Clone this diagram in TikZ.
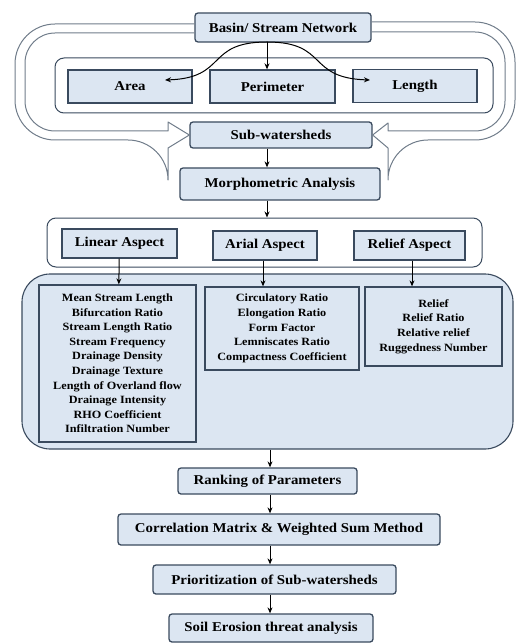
\documentclass[tikz,border=0pt]{standalone}
\usepackage{fontspec}
\setmainfont{Liberation Serif}[FakeStretch=1.1]
\usepackage{xcolor}
\usetikzlibrary{positioning,arrows.meta,calc}
\definecolor{boxfill}{RGB}{220,230,242}
\definecolor{boxline}{RGB}{58,74,94}
\definecolor{loopline}{RGB}{112,124,138}

\begin{document}
\begin{tikzpicture}[x=1pt,y=-1pt,>={Stealth[length=6pt,width=5pt]},every node/.style={font=\bfseries\fontsize{13.5}{16}\selectfont}]
\tikzstyle{st}=[draw=boxline,line width=1.3pt,fill=boxfill,rounded corners=3pt,align=center,inner sep=0pt]
\tikzstyle{sq}=[st,rounded corners=0pt]
\tikzstyle{grp}=[draw=boxline,line width=1pt,fill=white,rounded corners=9pt,inner sep=0pt]
\tikzstyle{lst}=[sq,fill=boxfill,font=\bfseries\fontsize{11.1}{14.6}\selectfont]
\tikzstyle{hollow}=[draw=loopline,line width=1pt,line join=round]
\useasboundingbox (0,0) rectangle (516,644);

\node[st,minimum width=176,minimum height=29] (basin) at (283,27.5) {Basin/ Stream Network};
\node[grp,minimum width=438,minimum height=55] (grp1) at (274,85.5) {};
\node[sq,minimum width=124,minimum height=33] (area) at (130,86.5) {Area};
\node[sq,minimum width=125,minimum height=33] (perim) at (272.5,86.5) {Perimeter};
\node[sq,minimum width=124,minimum height=33] (length) at (415,86) {Length};
\node[st,minimum width=182,minimum height=26] (subw) at (281,135) {Sub-watersheds};
\node[st,minimum width=200,minimum height=32] (morph) at (280,184) {Morphometric Analysis};

\node[grp,minimum width=435,minimum height=49] (grp2) at (264.5,242.5) {};
\node[sq,minimum width=115,minimum height=29] (linear) at (119.5,243.5) {Linear Aspect};
\node[sq,minimum width=104,minimum height=29] (arial) at (265,245.5) {Arial Aspect};
\node[sq,minimum width=111,minimum height=29] (relief) at (409.5,245.5) {Relief Aspect};

\node[st,rounded corners=28pt,line width=1.1pt,minimum width=491,minimum height=175] (params) at (267.5,361.5) {};
\node[lst,minimum width=157,minimum height=157] (linlist) at (117.5,363.5) {Mean Stream Length\\Bifurcation Ratio\\Stream Length Ratio\\Stream Frequency\\Drainage Density\\Drainage Texture\\Length of Overland flow\\Drainage Intensity\\RHO Coefficient\\Infiltration Number};
\node[lst,minimum width=154,minimum height=83] (arilist) at (282,328.5) {Circulatory Ratio\\Elongation Ratio\\Form Factor\\Lemniscates Ratio\\Compactness Coefficient};
\node[lst,minimum width=137,minimum height=79] (rellist) at (433.5,326.5) {Relief\\Relief Ratio\\Relative relief\\Ruggedness Number};

\node[st,minimum width=179,minimum height=26] (rank) at (267.5,481) {Ranking of Parameters};
\node[st,minimum width=322,minimum height=31] (corr) at (279,529.5) {Correlation Matrix \& Weighted Sum Method};
\node[st,minimum width=243,minimum height=29] (prio) at (274.5,579.5) {Prioritization of Sub-watersheds};
\node[st,minimum width=204,minimum height=28] (soil) at (271,628) {Soil Erosion threat analysis};

\coordinate (split) at (267,42);
\coordinate (atip) at (165,80);
\coordinate (ltip) at (370,80);
\coordinate (axis) at (267,0);
\coordinate (axis2) at (270,0);

\draw[hollow] (basin.west |- 0,24) [rounded corners=40pt] -- (15,24) -- (15,140) -- (168,140) [sharp corners] -- (168,148) -- (subw.west |- 0,135) -- (168,122) -- (168,131) [rounded corners=30pt] -- (25,131) -- (25,33) -- (basin.west |- 0,33);
\draw[hollow] (basin.east |- 0,22) [rounded corners=40pt] -- (515,22) -- (515,140) -- (388,140) [sharp corners] -- (388,148) -- (subw.east |- 0,135) -- (388,123) -- (388,131) [rounded corners=30pt] -- (505,131) -- (505,32) -- (basin.east |- 0,32);

\draw[->,line width=1pt] (split) -- (perim.north -| split);
\draw[->,line width=1pt] (split) .. controls (205,42) and (228,78) .. (atip);
\draw[->,line width=1pt] (split) .. controls (329,42) and (306,78) .. (ltip);

\draw[->,line width=1pt] (subw.south -| axis) -- (morph.north -| axis);
\draw[->,line width=1pt] (morph.south -| axis) -- (grp2.north -| axis);
\draw[->,line width=1pt] (linear) -- (linlist);
\draw[->,line width=1pt] (arial.south -| 263,0) -- (arilist.north -| 263,0);
\draw[->,line width=1pt] (relief.south -| 412,0) -- (rellist.north -| 412,0);
\draw[->,line width=1pt] (params.south -| axis2) -- (rank.north -| axis2);
\draw[->,line width=1pt] (rank.south -| axis2) -- (corr.north -| axis2);
\draw[->,line width=1pt] (corr.south -| axis2) -- (prio.north -| axis2);
\draw[->,line width=1pt] (prio.south -| axis2) -- (soil.north -| axis2);
\end{tikzpicture}
\end{document}
